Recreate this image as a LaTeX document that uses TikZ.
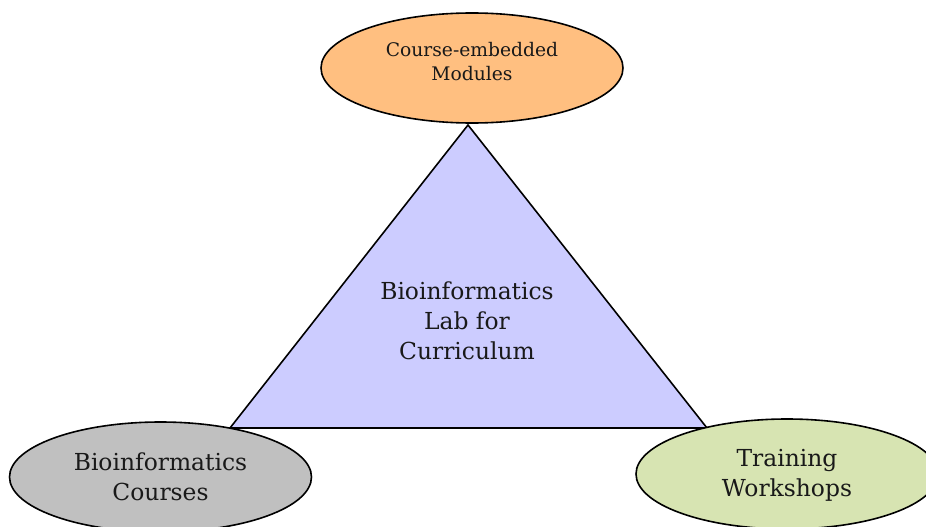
\documentclass[tikz,border=0pt]{standalone}
\usepackage{fontspec}
\setmainfont{DejaVu Serif}
\usetikzlibrary{shapes.geometric}
\definecolor{orangefill}{RGB}{255,191,128}
\definecolor{grayfill}{RGB}{192,192,192}
\definecolor{greenfill}{RGB}{215,228,178}
\definecolor{lavfill}{RGB}{204,204,255}
\tikzset{
  oval/.style={ellipse, draw=black, line width=1.6pt, minimum width=302pt, minimum height=110pt, inner sep=0pt, align=center, text=black!90},
  bigtext/.style={font=\fontsize{23.4}{30}\selectfont},
  smalltext/.style={font=\fontsize{18.7}{24.7}\selectfont},
  tri/.style={draw=black, line width=1.6pt, fill=lavfill, line join=miter}
}
\begin{document}
\begin{tikzpicture}[x=1pt,y=-1pt]
\useasboundingbox (0,0) rectangle (926,527);
\coordinate (apex) at (468,125);
\coordinate (bl) at (230,428);
\coordinate (br) at (707,428);
\draw[tri] (apex) -- (bl) -- (br) -- cycle;
\node[bigtext, align=center, text=black!90] (lab) at (467,321) {Bioinformatics\\Lab for\\Curriculum};
\node[oval, fill=orangefill] (mod) at (472,68) {};
\node[smalltext, align=center, text=black!90, yshift=6.5pt] (modtext) at (mod.center) {Course-embedded\\Modules};
\node[oval, bigtext, fill=grayfill] (crs) at (160.5,477) {Bioinformatics\\Courses};
\node[oval, fill=greenfill] (wks) at (787,474) {};
\node[bigtext, align=center, text=black!90, yshift=-1.5pt] (wkstext) at (wks.center) {Training\\Workshops};
\end{tikzpicture}
\end{document}
